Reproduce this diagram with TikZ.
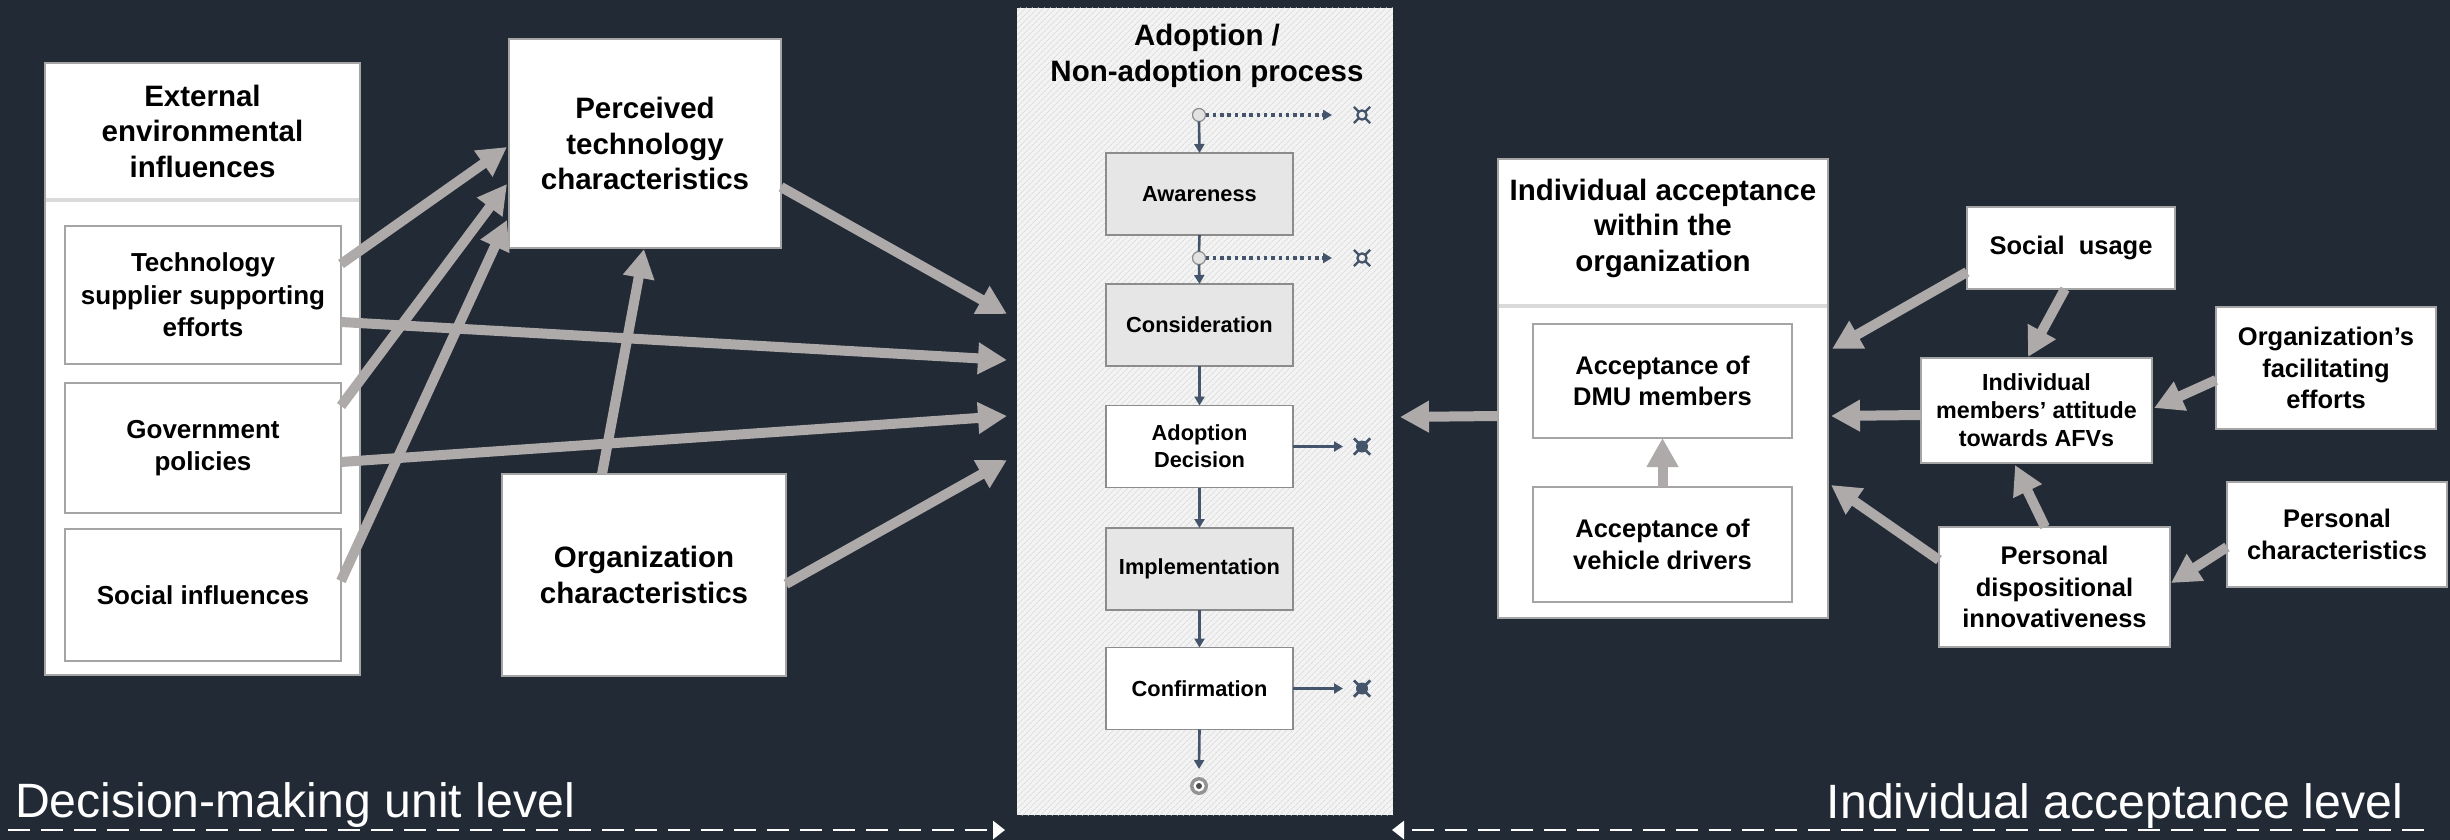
\documentclass[tikz,border=0pt]{standalone}
\usepackage{fontspec}
\setmainfont{Liberation Sans}
\usetikzlibrary{arrows.meta,calc,patterns.meta}

\definecolor{bg}{HTML}{222A35}
\definecolor{flow}{HTML}{AEAAAA}
\definecolor{proc}{HTML}{44546A}
\definecolor{edge}{HTML}{A5A5A5}
\definecolor{stageedge}{HTML}{8C8C8C}
\definecolor{stagefill}{HTML}{E6E6E6}
\definecolor{panelfill}{HTML}{F3F3F3}
\definecolor{hatch}{HTML}{CFCFCF}
\definecolor{rule}{HTML}{DADADA}
\definecolor{dotfill}{HTML}{E2E2E2}
\definecolor{dotedge}{HTML}{8C8C8C}

\tikzset{
  pics/quitopen/.style={code={
    \draw[proc, line width=2.2pt] (0,0) circle (4.6);
    \foreach \a in {45,135,225,315} \draw[proc, line width=2.4pt] (\a:4.6) -- (\a:11.5);
  }},
  pics/quitfull/.style={code={
    \fill[proc] (0,0) circle (6);
    \foreach \a in {45,135,225,315} \draw[proc, line width=2.8pt] (0,0) -- (\a:11.5);
  }},
}

\begin{document}
\begin{tikzpicture}[x=1pt,y=-1pt,
  every node/.style={inner sep=0pt, outer sep=0pt},
  box/.style={draw=edge, line width=1.5pt, fill=white, align=center},
  stagebox/.style={box, draw=stageedge, minimum width=187, minimum height=82},
  tA/.style={align=center, font=\fontsize{29.5}{35.5}\selectfont\bfseries},
  tB/.style={font=\fontsize{26}{32.5}\selectfont\bfseries},
  tC/.style={font=\fontsize{25.5}{31.5}\selectfont\bfseries},
  tD/.style={font=\fontsize{23.3}{28}\selectfont\bfseries},
  tE/.style={font=\fontsize{21.8}{27}\selectfont\bfseries},
  flowarrow/.style={draw=flow, line width=10pt, -{Triangle[length=29pt,width=30pt]}},
  procarrow/.style={draw=proc, line width=2.6pt, -{Triangle[length=9pt,width=10pt]}},
  procline/.style={draw=proc, line width=2.6pt},
  exitarrow/.style={procarrow, line width=3.2pt, dash pattern=on 3.5pt off 3.8pt},
  levelarrow/.style={draw=white, line width=2.6pt, dash pattern=on 22pt off 11pt, -{Triangle[length=12pt,width=18pt]}},
  dividerline/.style={draw=rule, line width=3.5pt},
  levelfont/.style={font=\fontsize{48.2}{57}\selectfont, text=white},
  dotnode/.style={circle, fill=dotfill, draw=dotedge, line width=1.2pt, minimum size=13},
]
\useasboundingbox (0,0) rectangle (2450,840);
\fill[bg] (0,0) rectangle (2450,840);

% ---------- decision-making unit level ----------
\node[box, minimum width=315, minimum height=612] (ext) at (202.5,369) {};
\draw[dividerline] ($(ext.north west)+(1,137)$) -- ($(ext.north east)+(-1,137)$);
\node[tA] (exthead) at (202.5,131) {External\\environmental\\influences};
\node[box, tB, minimum width=276, minimum height=138] (tech) at (203,295) {Technology\\supplier supporting\\efforts};
\node[box, tB, minimum width=276, minimum height=130] (gov) at (203,448) {Government\\policies};
\node[box, tB, minimum width=276, minimum height=132] (socinf) at (203,595) {Social influences};

\node[box, tA, minimum width=272, minimum height=209] (perc) at (645,143.5) {Perceived\\technology\\characteristics};
\node[box, tA, minimum width=284, minimum height=202] (org) at (644,575) {Organization\\characteristics};

% ---------- adoption / non-adoption process ----------
\node[fill=panelfill, minimum width=376, minimum height=807] (panel) at (1205,411.5) {};
\fill[pattern={Lines[angle=45,distance=4pt,line width=0.6pt]}, pattern color=hatch]
  (panel.south west) rectangle (panel.north east);
\node[tA] (ptitle) at (1207,56) {Adoption /\\Non-adoption process};

\node[dotnode] (c1) at (1199,115) {};
\node[stagebox, tE, fill=stagefill] (aware) at (1199.5,194) {Awareness};
\node[dotnode] (c2) at (1199,258) {};
\node[stagebox, tE, fill=stagefill] (consid) at (1199.5,325) {Consideration};
\node[stagebox, tE] (adopt) at (1199.5,446.5) {Adoption\\Decision};
\node[stagebox, tE, fill=stagefill] (impl) at (1199.5,569) {Implementation};
\node[stagebox, tE] (confirm) at (1199.5,688.5) {Confirmation};
\node[circle, fill=gray!85!white, minimum size=18] (fin) at (1199,786) {};
\fill[white] (fin) circle (5.6);
\fill[black!70] (fin) circle (3);

\coordinate (q1) at (1362,115);
\coordinate (q2) at (1362,258);
\coordinate (q3) at (1362,446.5);
\coordinate (q4) at (1362,688.5);
\pic at (q1) {quitopen};
\pic at (q2) {quitopen};
\pic at (q3) {quitfull};
\pic at (q4) {quitfull};

\draw[exitarrow] (c1.east) -- ($(q1)+(-30,0)$);
\draw[procarrow] (c1.south) -- (aware.north);
\draw[procline] (aware.south) -- (c2.north);
\draw[exitarrow] (c2.east) -- ($(q2)+(-30,0)$);
\draw[procarrow] (c2.south) -- (consid.north);
\draw[procarrow] (consid.south) -- (adopt.north);
\draw[procarrow] (adopt.east) -- ($(q3)+(-19,0)$);
\draw[procarrow] (adopt.south) -- (impl.north);
\draw[procarrow] (impl.south) -- (confirm.north);
\draw[procarrow] (confirm.east) -- ($(q4)+(-19,0)$);
\draw[procarrow] (confirm.south) -- ($(fin.north)+(0,-8)$);

% ---------- individual acceptance level ----------
\node[box, minimum width=330, minimum height=459] (indiv) at (1663,388.5) {};
\draw[dividerline] ($(indiv.north west)+(1,147)$) -- ($(indiv.north east)+(-1,147)$);
\node[tA] (indivhead) at (1663,228) {Individual acceptance\\within the\\organization};
\node[box, tC, minimum width=259, minimum height=114] (dmu) at (1662.5,381) {Acceptance of\\DMU members};
\node[box, tC, minimum width=259, minimum height=115] (veh) at (1662.5,544.5) {Acceptance of\\vehicle drivers};

\node[box, tC, minimum width=208, minimum height=82] (su) at (2071,248) {Social\ \ usage};
\node[box, tD, minimum width=231, minimum height=105] (att) at (2036.5,410.5) {Individual\\members’ attitude\\towards AFVs};
\node[box, tC, minimum width=220, minimum height=122] (orgfac) at (2326,368) {Organization’s\\facilitating\\efforts};
\node[box, tC, minimum width=220, minimum height=105] (pc) at (2337,534.5) {Personal\\characteristics};
\node[box, tC, minimum width=231, minimum height=120] (pd) at (2054.5,587) {Personal\\dispositional\\innovativeness};

% ---------- influence arrows ----------
\draw[flowarrow] ($(tech.east)+(0,-31)$) -- ($(perc.west)+(-2,3.5)$);
\draw[flowarrow] ($(gov.east)+(0,-42)$) -- ($(perc.west)+(-2,40.5)$);
\draw[flowarrow] ($(socinf.east)+(0,-14)$) -- ($(perc.west)+(-2,76.5)$);
\draw[flowarrow] ($(org.north)+(-42,0)$) -- ($(perc.south)+(-1,1)$);
\draw[flowarrow] ($(perc.east)+(0,43.5)$) -- ($(panel.west)+(-10,-97.5)$);
\draw[flowarrow] ($(tech.east)+(0,27)$) -- ($(panel.west)+(-10,-51.5)$);
\draw[flowarrow] ($(gov.east)+(0,14)$) -- ($(panel.west)+(-10,4.5)$);
\draw[flowarrow] ($(org.east)+(0,9)$) -- ($(panel.west)+(-10,48.5)$);

\draw[flowarrow] ($(indiv.west)+(0,27.5)$) -- ($(panel.east)+(7,5.5)$);
\draw[flowarrow] (veh.north) -- (dmu.south);
\draw[flowarrow] ($(su.west)+(0,24)$) -- ($(indiv.east)+(4,-39.5)$);
\draw[flowarrow] ($(att.west)+(0,4.5)$) -- ($(indiv.east)+(3,27.5)$);
\draw[flowarrow] ($(pd.west)+(0,-27)$) -- ($(indiv.east)+(3,96.5)$);
\draw[flowarrow] ($(su.south)+(-6,0)$) -- ($(att.north)+(-8.5,-1)$);
\draw[flowarrow] ($(orgfac.west)+(0,12)$) -- ($(att.east)+(2,-2.5)$);
\draw[flowarrow] ($(pd.north)+(-9.5,0)$) -- ($(att.south)+(-21.5,2)$);
\draw[flowarrow] ($(pc.west)+(0,12.5)$) -- ($(pd.east)+(1,-4)$);

% ---------- level labels ----------
\coordinate (lvlL) at (8,830);
\coordinate (lvlR) at (2424,830);
\draw[levelarrow] (lvlL) -- ($(panel.south west)+(-12,15)$);
\draw[levelarrow] (lvlR) -- ($(panel.south east)+(-1,15)$);
\node[levelfont, anchor=base west] (lvlDMU) at (15,817) {Decision-making unit level};
\node[levelfont, anchor=base east] (lvlInd) at (2403,818) {Individual acceptance level};
\end{tikzpicture}
\end{document}
